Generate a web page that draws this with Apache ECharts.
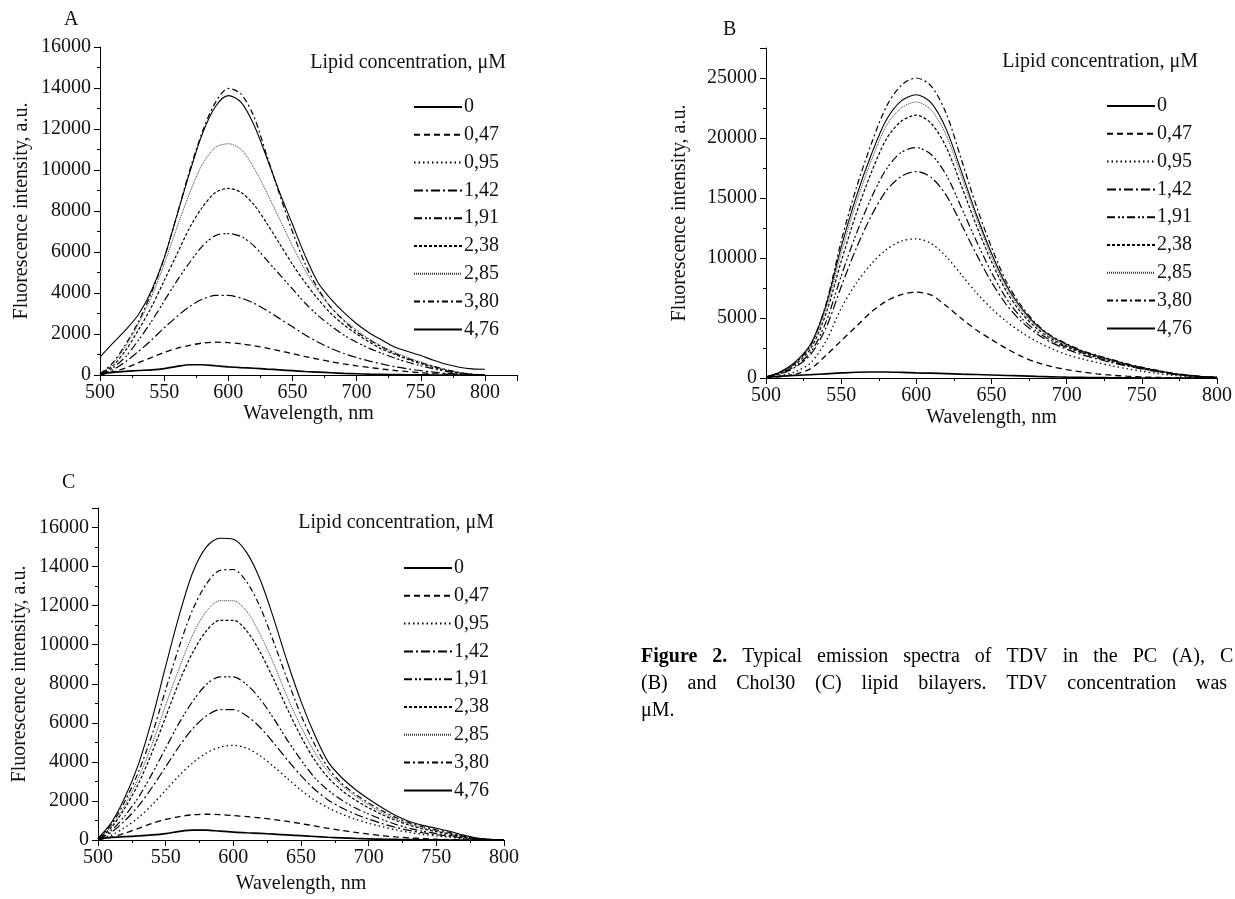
<!DOCTYPE html>
<html><head><meta charset="utf-8">
<script src="https://cdn.jsdelivr.net/npm/echarts/dist/echarts.min.js"></script>
<style>html,body{margin:0;padding:0;background:#fff}#c{width:1235px;height:899px}</style>
</head><body><div id="c"></div>
<script>
// ---- data ----
const wavelengths = [500,510,520,530,540,550,560,570,580,590,600,610,620,630,640,650,660,670,680,690,700,710,720,730,740,750,760,770,780,790,800];
const concentrations = ['0','0,47','0,95','1,42','1,91','2,38','2,85','3,80','4,76'];
const xTicksLabel = 'Wavelength, nm';
const yTicksLabel = 'Fluorescence intensity, a.u.';

// Panel A (PC)
const A_0   = [60,130,180,220,250,310,420,500,500,450,400,360,330,290,250,210,170,140,110,80,60,40,30,20,10,5,0,0,0,0,0];
const A_047 = [10,150,350,600,850,1100,1300,1450,1560,1600,1580,1520,1430,1310,1180,1040,900,770,650,540,450,370,290,220,160,110,70,40,20,5,0];
const A_095 = [];
const A_142 = [20,250,650,1150,1700,2300,2850,3350,3700,3880,3880,3750,3500,3150,2750,2350,1950,1600,1300,1050,850,680,530,400,300,210,140,80,40,10,0];
const A_191 = [30,350,900,1700,2600,3600,4600,5500,6300,6800,6900,6750,6300,5600,4900,4200,3500,2900,2400,1950,1600,1300,1050,820,620,450,300,180,80,20,0];
const A_238 = [40,450,1200,2200,3300,4600,5900,7200,8200,8900,9100,8900,8300,7400,6400,5400,4500,3700,3000,2450,2000,1600,1250,1000,760,550,370,220,100,30,0];
const A_285 = [50,550,1400,2500,3800,5400,7200,8900,10300,11100,11280,11000,10100,8900,7600,6300,5100,4100,3300,2700,2200,1750,1400,1100,850,620,420,250,120,40,0];
const A_380 = [50,600,1500,2600,4000,5700,7800,10000,11900,13300,13980,13700,12600,10700,8800,7000,5400,4200,3300,2650,2100,1700,1350,1050,800,600,420,260,120,40,0];
const A_476 = [870,1550,2200,2950,4100,5700,7800,9900,11800,13100,13630,13300,12200,10600,8900,7350,5800,4500,3700,3050,2500,2050,1700,1350,1150,950,720,520,380,300,280];

// Panel B
const B_0   = [50,150,220,280,350,420,480,500,500,470,430,400,370,330,290,250,210,170,130,100,70,50,30,20,10,0,0,0,0,0,0];
const B_047 = [20,120,330,800,1900,3100,4300,5500,6400,6950,7150,6900,6000,4950,4000,3200,2450,1800,1300,950,700,500,350,230,150,90,50,20,0,0,0];
const B_095 = [30,200,550,1300,3100,5800,7900,9500,10700,11400,11600,11200,10100,8600,7100,5800,4700,3800,3050,2450,1950,1600,1300,1020,780,560,380,230,120,50,20];
const B_142 = [50,350,950,2000,4200,7600,10800,13500,15600,16800,17200,16700,15200,12800,10300,8000,6100,4700,3700,2950,2400,1950,1600,1280,1000,740,520,330,190,90,40];
const B_191 = [60,400,1050,2200,4700,8500,12000,15000,17400,18800,19200,18600,16900,14200,11400,8800,6600,5000,3900,3100,2550,2100,1700,1350,1050,780,550,350,200,100,50];
const B_238 = [80,450,1200,2500,5400,9700,13700,17100,19900,21400,21900,21200,19200,16000,12700,9700,7200,5400,4150,3250,2650,2150,1750,1400,1080,800,560,360,210,100,50];
const B_285 = [80,500,1300,2700,5800,10400,14600,18100,21000,22500,23000,22300,20200,16800,13300,10100,7500,5600,4300,3350,2700,2200,1800,1450,1100,830,580,370,220,110,50];
const B_380 = [100,500,1300,2800,6200,11400,15800,19500,22600,24400,25000,24300,22000,18200,14300,10900,8000,6000,4500,3500,2850,2300,1900,1550,1200,900,650,420,250,120,60];
const B_476 = [100,550,1400,2900,6100,10900,15100,18600,21500,23100,23600,22900,20700,17200,13600,10400,7700,5800,4400,3450,2800,2250,1850,1500,1150,870,620,400,240,120,60];

// Panel C (Chol30)
const C_0   = [60,130,170,210,260,330,440,510,510,450,400,370,340,300,260,220,180,140,110,80,60,40,30,20,10,5,0,0,0,0,0];
const C_047 = [10,150,350,600,850,1050,1200,1290,1320,1300,1250,1200,1130,1050,950,840,720,600,490,390,300,220,160,110,70,40,20,10,0,0,0];
const C_095 = [20,250,650,1150,1800,2550,3300,3950,4450,4750,4850,4700,4300,3750,3150,2550,2050,1650,1330,1070,860,680,520,390,290,210,140,70,30,10,0];
const C_142 = [30,400,1000,1750,2700,3750,4800,5700,6350,6680,6680,6350,5750,4950,4100,3300,2600,2050,1650,1330,1070,840,650,490,370,270,190,100,40,10,0];
const C_191 = [40,500,1250,2200,3400,4700,6000,7100,7950,8350,8350,7950,7200,6200,5100,4100,3200,2550,2050,1650,1330,1050,800,600,450,330,230,120,50,10,0];
const C_238 = [50,650,1650,2900,4500,6300,8100,9600,10700,11250,11250,10700,9600,8200,6700,5300,4100,3200,2550,2050,1650,1300,1000,760,570,430,300,160,60,20,0];
const C_285 = [50,700,1800,3200,4900,6900,8800,10500,11700,12250,12250,11700,10500,9000,7300,5800,4500,3500,2800,2250,1800,1400,1080,820,620,470,340,180,70,20,0];
const C_380 = [60,800,2000,3500,5400,7700,9900,11800,13100,13800,13850,13200,11900,10100,8200,6400,4900,3700,2900,2350,1900,1500,1150,880,680,520,380,200,80,30,0];
const C_476 = [80,900,2200,3900,6200,8900,11500,13700,15000,15450,15400,14700,13300,11300,9100,7100,5400,4000,3200,2600,2100,1650,1250,950,750,600,450,250,100,40,0];

const panelA = [A_0,A_047,A_095,A_142,A_191,A_238,A_285,A_380,A_476];
const panelB = [B_0,B_047,B_095,B_142,B_191,B_238,B_285,B_380,B_476];
const panelC = [C_0,C_047,C_095,C_142,C_191,C_238,C_285,C_380,C_476];

// ---- styles ----
const FONT = "'Liberation Serif', 'Times New Roman', serif";
const lineStyles = [
  {type:'solid', width:1.7, color:'#000'},
  {type:[6,4], width:1.3, color:'#000'},
  {type:[1.5,3], width:1.3, color:'#000'},
  {type:[9,3,2,3], width:1.2, color:'#000'},
  {type:[8,3,2,2,2,3], width:1.2, color:'#000'},
  {type:[3,2], width:1.2, color:'#000'},
  {type:[1,1], width:1, color:'#333'},
  {type:[6,3,2,3], width:1.2, color:'#000'},
  {type:'solid', width:1.1, color:'#000'}
];

const grids = [
  {left:100, top:47, width:417, height:328},
  {left:766, top:48, width:452, height:330},
  {left:98, top:508, width:406, height:332}
];
const xMax = [825, 800, 800];
const yMax = [16000, 27500, 17000];
const yInt = [2000, 5000, 2000];
const xNameGap = [28, 30, 34];
const yNameGap = [68, 76, 68];
const plain = v => String(v);

function xAxis(i){
  return {type:'value', gridIndex:i, min:500, max:xMax[i], interval:50,
    name:xTicksLabel, nameLocation:'middle', nameGap:xNameGap[i],
    nameTextStyle:{fontFamily:FONT, fontSize:20, color:'#111'},
    axisLine:{show:true, lineStyle:{color:'#000', width:1}},
    axisTick:{show:true, length:6, lineStyle:{color:'#000'}},
    minorTick:{show:true, splitNumber:2, length:3, lineStyle:{color:'#000'}},
    axisLabel:{fontFamily:FONT, fontSize:20, color:'#111', margin:8, formatter:plain, showMaxLabel: xMax[i]===800, showMinLabel:true},
    splitLine:{show:false}};
}
function yAxis(i){
  return {type:'value', gridIndex:i, min:0, max:yMax[i], interval:yInt[i],
    name:yTicksLabel, nameLocation:'middle', nameGap:yNameGap[i],
    nameTextStyle:{fontFamily:FONT, fontSize:20, color:'#111'},
    axisLine:{show:true, lineStyle:{color:'#000', width:1}},
    axisTick:{show:true, length:6, lineStyle:{color:'#000'}},
    minorTick:{show:true, splitNumber:2, length:3, lineStyle:{color:'#000'}},
    axisLabel:{fontFamily:FONT, fontSize:20, color:'#111', margin:9, formatter:plain, showMaxLabel: yMax[i]===16000, showMinLabel:true},
    splitLine:{show:false}};
}

const series = [];
[panelA, panelB, panelC].forEach((panel, gi) => {
  panel.forEach((vals, k) => {
    series.push({
      type:'line', name:concentrations[k], xAxisIndex:gi, yAxisIndex:gi,
      data: vals.map((v, j) => [wavelengths[j], v]),
      showSymbol:false, symbol:'none', smooth:0.3, silent:true,
      lineStyle: lineStyles[k], itemStyle:{color: lineStyles[k].color},
      z: k===0 ? 3 : 2
    });
  });
});

const legendPos = [
  {left:413, top:97},
  {left:1106, top:96},
  {left:403, top:558}
];
const legends = legendPos.map(p => ({
  data: concentrations, orient:'vertical', left:p.left, top:p.top, padding:0,
  itemWidth:48, itemHeight:14, itemGap:7.8, selectedMode:false,
  itemStyle:{opacity:0, borderWidth:0},
  textStyle:{fontFamily:FONT, fontSize:20, color:'#111', padding:[0,0,0,-3]}
}));

// graphic texts
const graphics = [];
function txt(x, y, s, opts){
  graphics.push({type:'text', x:x, y:y, silent:true,
    style:Object.assign({text:s, fontFamily:FONT, fontSize:20, fill:'#111', verticalAlign:'middle', align:'left'}, opts||{})});
}
txt(64, 20, 'A');
txt(723, 30, 'B');
txt(62, 483, 'C');
txt(506, 63, 'Lipid concentration, μM', {align:'right'});
txt(1198, 62, 'Lipid concentration, μM', {align:'right'});
txt(494, 523, 'Lipid concentration, μM', {align:'right'});

// caption (justified lines)
const cv = document.createElement('canvas').getContext('2d');
function w(s, bold){ cv.font = (bold?'bold ':'') + "20px 'Liberation Serif'"; return cv.measureText(s).width; }
function justified(words, boldFlags, x0, xLast, y){
  let total = 0;
  for (let i=0;i<words.length-1;i++) total += w(words[i], boldFlags[i]);
  const gap = (xLast - x0 - total) / (words.length-1);
  let x = x0;
  words.forEach((s, i) => {
    txt(x, y, s, boldFlags[i] ? {fontWeight:'bold', fill:'#000'} : {fill:'#000'});
    x += w(s, boldFlags[i]) + gap;
  });
}
const cap1 = ['Figure','2.','Typical','emission','spectra','of','TDV','in','the','PC','(A),','C'];
const cap2 = ['(B)','and','Chol30','(C)','lipid','bilayers.','TDV','concentration','was'];
justified(cap1, cap1.map((s,i)=>i<2), 641, 1220, 657);
justified(cap2, cap2.map(()=>false), 641, 1196, 684);
txt(641, 711, 'μM.', {fill:'#000'});

const chart = echarts.init(document.getElementById('c'), null, {renderer:'canvas'});
chart.setOption({
  animation:false,
  backgroundColor:'#fff',
  grid: grids,
  xAxis: [0,1,2].map(xAxis),
  yAxis: [0,1,2].map(yAxis),
  legend: legends,
  series: series,
  graphic: graphics
});
</script></body></html>
